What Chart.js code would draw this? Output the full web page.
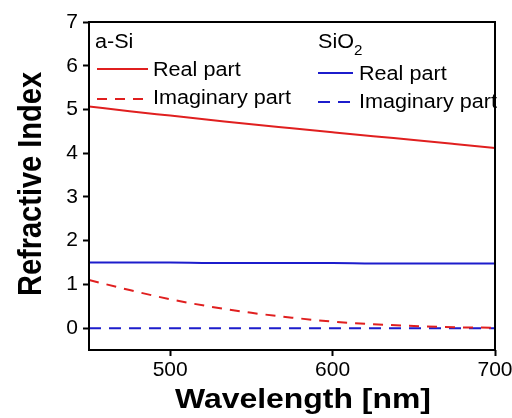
<!DOCTYPE html>
<html>
<head>
<meta charset="utf-8">
<script src="https://cdn.jsdelivr.net/npm/chart.js@4"></script>
<style>
  body { margin: 0; background: #fff; }
  canvas { display: block; }
</style>
</head>
<body>
<canvas id="nkChart" width="512" height="418"></canvas>
<script>
    // wavelength grid (nm) and optical constants
    const wavelengths = [450, 475, 500, 525, 550, 575, 600, 625, 650, 675, 700];
    const aSiReal = [5.07, 4.96, 4.86, 4.76, 4.66, 4.57, 4.48, 4.39, 4.30, 4.21, 4.12];
    const aSiImag = [1.10, 0.87, 0.66, 0.49, 0.35, 0.24, 0.15, 0.09, 0.05, 0.02, 0.01];
    const sio2Real = [1.50, 1.50, 1.50, 1.49, 1.49, 1.49, 1.49, 1.48, 1.48, 1.48, 1.48];
    const sio2Imag = [0, 0, 0, 0, 0, 0, 0, 0, 0, 0, 0];

    const xTicks = [500, 600, 700];
    const yTicks = [0, 1, 2, 3, 4, 5, 6, 7];

    const RED = '#e01f1f';
    const BLUE = '#1c1ccc';
    const FONT = "'Liberation Sans', Arial, sans-serif";
    const DASH = [10, 8];
    const STRETCH = 1.08; // text is a bit wider than the plain font

    function pts(ys) {
        return wavelengths.map((w, i) => ({ x: w, y: ys[i] }));
    }

    // text drawn with a horizontal stretch, anchored at (x, y)
    function wideText(ctx, str, x, y, sx) {
        ctx.save();
        ctx.translate(x, y);
        ctx.scale(sx, 1);
        ctx.fillText(str, 0, 0);
        const w = ctx.measureText(str).width * sx;
        ctx.restore();
        return w;
    }

    // frame, legend blocks and axis titles
    const decor = {
        id: 'decor',
        afterDraw(chart) {
            const { ctx, chartArea: a } = chart;
            ctx.save();
            ctx.strokeStyle = '#000';
            ctx.lineWidth = 2;
            ctx.strokeRect(a.left, a.top, a.right - a.left, a.bottom - a.top);

            ctx.fillStyle = '#000';
            ctx.textAlign = 'left';
            ctx.textBaseline = 'alphabetic';
            ctx.font = '20px ' + FONT;

            // a-Si block
            wideText(ctx, 'a-Si', 95, 48, STRETCH);
            wideText(ctx, 'Real part', 153, 76, STRETCH);
            wideText(ctx, 'Imaginary part', 153, 104, STRETCH);

            // SiO2 block
            const w = wideText(ctx, 'SiO', 318, 48, STRETCH);
            ctx.font = '14px ' + FONT;
            wideText(ctx, '2', 318 + w, 55, STRETCH);
            ctx.font = '20px ' + FONT;
            wideText(ctx, 'Real part', 359, 80, STRETCH);
            wideText(ctx, 'Imaginary part', 359, 108, STRETCH);

            const seg = (x1, x2, y, color, dash) => {
                ctx.beginPath();
                ctx.strokeStyle = color;
                ctx.lineWidth = 2;
                ctx.setLineDash(dash);
                ctx.moveTo(x1, y);
                ctx.lineTo(x2, y);
                ctx.stroke();
            };
            seg(97, 148, 69, RED, []);
            seg(97, 148, 99, RED, DASH);
            seg(318, 353, 73, BLUE, []);
            seg(318, 352, 102, BLUE, [12, 8]);
            ctx.setLineDash([]);

            // axis titles
            ctx.fillStyle = '#000';
            ctx.font = 'bold 28px ' + FONT;
            ctx.textAlign = 'center';
            wideText(ctx, 'Wavelength [nm]', 303, 408, 1.14);

            ctx.translate(41, 184);
            ctx.scale(1.14, 1);
            ctx.rotate(-Math.PI / 2);
            ctx.font = 'bold 29px ' + FONT;
            ctx.fillText('Refractive Index', 0, 0);
            ctx.restore();
        }
    };

    const ctx = document.getElementById('nkChart').getContext('2d');

    const chart = new Chart(ctx, {
        type: 'line',
        data: {
            datasets: [
                { label: 'a-Si Real part', data: pts(aSiReal), borderColor: RED, borderWidth: 2 },
                { label: 'a-Si Imaginary part', data: pts(aSiImag), borderColor: RED, borderWidth: 2, borderDash: DASH },
                { label: 'SiO2 Real part', data: pts(sio2Real), borderColor: BLUE, borderWidth: 2 },
                { label: 'SiO2 Imaginary part', data: pts(sio2Imag), borderColor: BLUE, borderWidth: 2, borderDash: [12, 8] }
            ]
        },
        options: {
            responsive: false,
            animation: false,
            elements: {
                point: { radius: 0 },
                line: { cubicInterpolationMode: 'monotone' }
            },
            layout: { padding: { left: 0, top: 22, right: 17, bottom: 0 } },
            plugins: {
                legend: { display: false },
                tooltip: { enabled: false }
            },
            scales: {
                x: {
                    type: 'linear',
                    min: 450,
                    max: 700,
                    afterBuildTicks: s => { s.ticks = xTicks.map(v => ({ value: v })); },
                    afterFit: s => { s.height = 68; s.paddingLeft = 0; s.paddingRight = 0; },
                    border: { display: false },
                    grid: { drawOnChartArea: false, tickLength: 6, tickColor: '#000', tickWidth: 2 },
                    ticks: { color: '#000', font: { family: FONT, size: 21 }, padding: 2, maxRotation: 0 }
                },
                y: {
                    min: -0.5,
                    max: 7,
                    afterBuildTicks: s => { s.ticks = yTicks.map(v => ({ value: v })); },
                    afterFit: s => { s.width = 89; },
                    border: { display: false },
                    grid: { drawOnChartArea: false, tickLength: 6, tickColor: '#000', tickWidth: 2 },
                    ticks: { color: '#000', font: { family: FONT, size: 21 }, padding: 5 }
                }
            }
        },
        plugins: [decor]
    });
</script>
</body>
</html>
